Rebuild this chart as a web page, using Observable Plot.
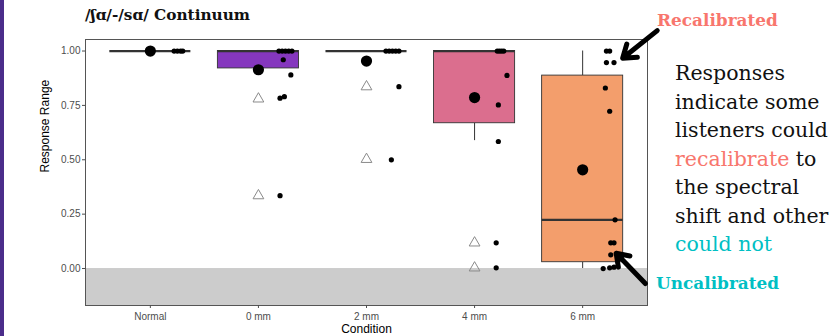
<!DOCTYPE html>
<html><head><meta charset="utf-8">
<script src="https://cdn.jsdelivr.net/npm/d3@7"></script>
<script src="https://cdn.jsdelivr.net/npm/@observablehq/plot@0.6"></script>
<style>
body{margin:0;background:#fff;}
#wrap{position:relative;width:829px;height:336px;overflow:hidden;font-family:"Liberation Sans",Arial,sans-serif;}
#strip{position:absolute;left:0;top:0;width:4px;height:336px;background:#4B2D8A;}
#title{position:absolute;left:85px;top:6px;font-family:"DejaVu Serif",serif;font-weight:bold;font-size:15.3px;color:#111;white-space:nowrap;}
#side{position:absolute;left:675px;top:59px;font-family:"DejaVu Serif",serif;font-size:20.5px;line-height:28.5px;color:#111;white-space:nowrap;}
.ann{position:absolute;font-family:"DejaVu Serif",serif;font-weight:bold;font-size:16.9px;white-space:nowrap;}
#recal{left:657px;top:10px;color:#F8766D;}
#uncal{left:656px;top:273px;color:#00BFC4;}
#chart{position:absolute;left:0;top:0;}
</style></head><body>
<div id="wrap">
<div id="chart"></div>
<div id="strip"></div>
<div id="title">/ʃɑ/-/sɑ/ Continuum</div>
<div id="side">Responses<br>indicate some<br>listeners could<br><span style="color:#F8766D">recalibrate</span> to<br>the spectral<br>shift and other<br><span style="color:#00BFC4">could not</span></div>
<div class="ann" id="recal">Recalibrated</div>
<div class="ann" id="uncal">Uncalibrated</div>
</div>
<script>
const conditions = ["Normal", "0 mm", "2 mm", "4 mm", "6 mm"];
const boxQ1     = [1, 0.92, 1, 0.668, 0.029];
const boxMedian = [1, 1, 1, 1, 0.224];
const boxQ3     = [1, 1, 1, 1, 0.887];
const whiskLow  = [1, 0.92, 1, 0.588, 0.0];
const whiskHigh = [1, 1, 1, 1, 1];
const means     = [1, 0.914, 0.954, 0.786, 0.454];
const boxFill   = ["#5B1E8C", "#8537BE", "#B63679", "#DB6E8E", "#F39E6C"];
const outlierCond  = [1, 1, 2, 2, 3, 3];
const outlierValue = [0.78, 0.335, 0.836, 0.502, 0.118, 0.003];
// jittered responses: condition index, value, horizontal jitter (category units)
const ptCond  = [0,0,0,0, 1,1,1,1,1,1,1,1,1,1, 2,2,2,2,2,2,2, 3,3,3,3,3,3,3,3,3, 4,4,4,4,4,4,4,4,4,4,4,4,4];
const ptValue = [1,1,1,1, 1,1,1,1,1,0.96,0.89,0.783,0.79,0.335, 1,1,1,1,1,0.836,0.5, 1,1,1,1,0.888,0.752,0.584,0.118,0.003, 1,1,0.947,0.947,0.83,0.723,0.224,0.118,0.118,0.063,0,0.003,0.006];
const ptJit   = [0.22,0.25,0.28,0.3, 0.19,0.22,0.25,0.28,0.31,0.23,0.3,0.2,0.24,0.2, 0.18,0.21,0.24,0.27,0.3,0.3,0.23, 0.21,0.23,0.25,0.27,0.3,0.22,0.22,0.2,0.2, 0.22,0.25,0.22,0.29,0.21,0.25,0.3,0.26,0.29,0.26,0.19,0.25,0.29];
const yTicks = [0, 0.25, 0.5, 0.75, 1];
// annotation arrows (data coordinates)
const arrowX1 = [4.69, 4.58], arrowY1 = [1.094, -0.069];
const arrowX2 = [4.37, 4.31], arrowY2 = [0.967, 0.07];

const xMin = -0.6, xMax = 4.6, yMin = -0.17, yMax = 1.053;
const boxW = 0.375;
const boxes = conditions.map((c, i) => ({i, q1: boxQ1[i], med: boxMedian[i], q3: boxQ3[i], lo: whiskLow[i], hi: whiskHigh[i], mean: means[i], fill: boxFill[i]}));
const outliers = outlierCond.map((c, k) => ({x: c, y: outlierValue[k]}));
const pts = ptCond.map((c, k) => ({x: c + ptJit[k], y: ptValue[k]}));
const arrows = arrowX1.map((v, k) => ({x1: v, y1: arrowY1[k], x2: arrowX2[k], y2: arrowY2[k]}));

const chart = Plot.plot({
  width: 829, height: 336,
  marginLeft: 85, marginRight: 182, marginTop: 39, marginBottom: 31,
  style: {fontFamily: "'Liberation Sans', Arial, sans-serif", background: "transparent"},
  x: {type: "linear", domain: [xMin, xMax]},
  y: {domain: [yMin, yMax]},
  marks: [
    Plot.rect([0], {x1: xMin, x2: xMax, y1: yMin, y2: 0, fill: "#CCCCCC"}),
    Plot.ruleX(boxes, {x: "i", y1: "lo", y2: "q1", stroke: "#333", strokeWidth: 1}),
    Plot.ruleX(boxes, {x: "i", y1: "q3", y2: "hi", stroke: "#333", strokeWidth: 1}),
    Plot.rect(boxes, {x1: d => d.i - boxW, x2: d => d.i + boxW, y1: "q1", y2: "q3", fill: "fill", stroke: "#333", strokeWidth: 0.9}),
    Plot.ruleY(boxes, {y: "med", x1: d => d.i - boxW, x2: d => d.i + boxW, stroke: "#333", strokeWidth: 2.2}),
    Plot.dot(outliers, {x: "x", y: "y", symbol: "triangle", r: 4, stroke: "#8a8a8a", fill: "none", strokeWidth: 1}),
    Plot.dot(pts, {x: "x", y: "y", r: 2.6, fill: "#000"}),
    Plot.dot(boxes, {x: "i", y: "mean", r: 5.6, fill: "#000"}),
    Plot.frame({stroke: "#555", strokeWidth: 1}),
    Plot.axisY({ticks: yTicks, tickFormat: d3.format(".2f"), tickSize: 3, tickPadding: 2, fontSize: 10, color: "#4D4D4D", label: null}),
    Plot.axisX({ticks: conditions.map((c, i) => i), tickFormat: i => conditions[i], tickSize: 3, tickPadding: 4, fontSize: 10, color: "#4D4D4D", label: null}),
    Plot.text(["Response Range"], {frameAnchor: "left", dx: -40, rotate: -90, fontSize: 12, fill: "#000"}),
    Plot.text(["Condition"], {frameAnchor: "bottom", dy: 24, lineAnchor: "middle", fontSize: 12, fill: "#000"}),
    Plot.arrow(arrows, {x1: "x1", y1: "y1", x2: "x2", y2: "y2", stroke: "#000", strokeWidth: 5, headLength: 14, headAngle: 70})
  ]
});
document.getElementById("chart").appendChild(chart);
</script>
</body></html>
